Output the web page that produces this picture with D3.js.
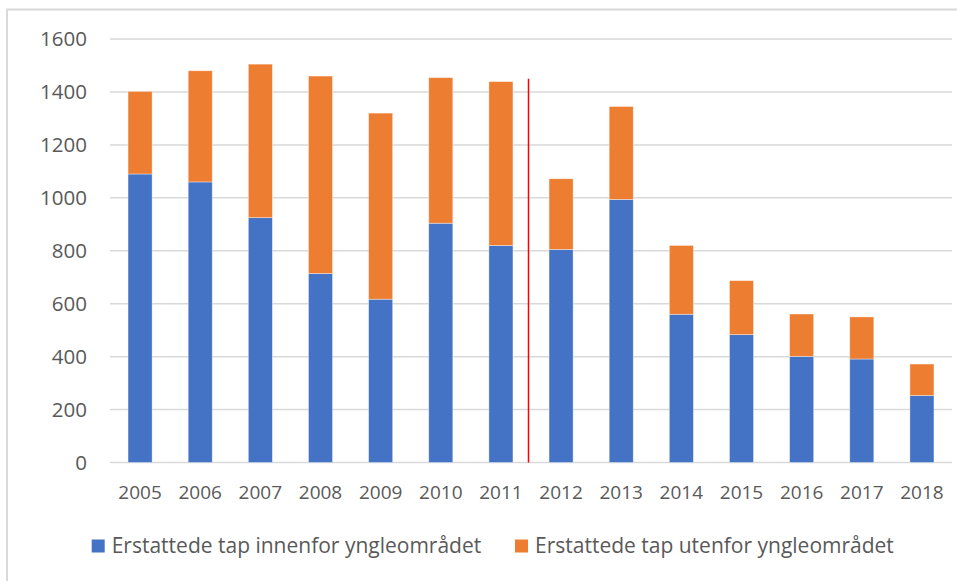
<!DOCTYPE html>
<html>
<head>
<meta charset="utf-8">
<script src="https://cdn.jsdelivr.net/npm/d3@7"></script>
<style>
  body { margin: 0; background: #fff; }
  svg text { font-family: "Open Sans", "Noto Sans", sans-serif; fill: #595959; }
</style>
</head>
<body>
<svg id="chart" width="957" height="581"></svg>
<script>
// data
var years = ["2005", "2006", "2007", "2008", "2009", "2010", "2011",
             "2012", "2013", "2014", "2015", "2016", "2017", "2018"];
var innenfor = [1090, 1060, 925, 714, 617, 904, 820, 805, 994, 560, 483, 401, 391, 253];
var utenfor  = [312, 420, 580, 746, 703, 550, 619, 267, 351, 260, 204, 160, 159, 119];
var yTicks = [0, 200, 400, 600, 800, 1000, 1200, 1400, 1600];
var seriesNames = ["Erstattede tap innenfor yngleområdet", "Erstattede tap utenfor yngleområdet"];
var colors = ["#4472c4", "#ed7d31"];
var markerYear = "2012", markerTop = 1450;

var svg = d3.select("#chart");

// chart frame (right and bottom edges run off the picture)
svg.append("path")
    .attr("d", "M7,581V9.5H957")
    .attr("fill", "none")
    .attr("stroke", "#d9d9d9")
    .attr("stroke-width", 2);

var x = d3.scaleBand()
    .domain(years)
    .range([110, 952])
    .paddingInner(0.6)
    .paddingOuter(0.3);

var y = d3.scaleLinear()
    .domain([0, 1600])
    .range([462.5, 39]);

// gridlines
svg.append("g")
    .selectAll("line")
    .data(yTicks)
    .enter().append("line")
    .attr("x1", 110)
    .attr("x2", 952)
    .attr("y1", function (d) { return y(d); })
    .attr("y2", function (d) { return y(d); })
    .attr("stroke", "#d9d9d9")
    .attr("stroke-width", 1.5);

// y labels
svg.append("g")
    .selectAll("text")
    .data(yTicks)
    .enter().append("text")
    .attr("x", 87)
    .attr("y", function (d) { return y(d); })
    .attr("dy", "0.35em")
    .attr("text-anchor", "end")
    .style("font-size", "20.5px")
    .text(function (d) { return d; });

// stacked bars
var rows = years.map(function (yr, i) {
    return { year: yr, innenfor: innenfor[i], utenfor: utenfor[i] };
});
var stack = d3.stack().keys(["innenfor", "utenfor"])(rows);

svg.append("g")
    .selectAll("g")
    .data(stack)
    .enter().append("g")
    .attr("fill", function (d, i) { return colors[i]; })
    .selectAll("rect")
    .data(function (d) { return d; })
    .enter().append("rect")
    .attr("x", function (d) { return x(d.data.year); })
    .attr("width", x.bandwidth())
    .attr("y", function (d) { return y(d[1]); })
    .attr("height", function (d) { return y(d[0]) - y(d[1]); })
    .attr("stroke", "#fff")
    .attr("stroke-opacity", 0.5)
    .attr("stroke-width", 0.75);

// red divider between 2011 and 2012
var mx = x(markerYear) - x.step() * x.paddingInner() / 2 - 2.5;
svg.append("line")
    .attr("x1", mx).attr("x2", mx)
    .attr("y1", y(markerTop)).attr("y2", y(0))
    .attr("stroke", "#ff0000")
    .attr("stroke-width", 1.5);

// x labels
svg.append("g")
    .selectAll("text")
    .data(years)
    .enter().append("text")
    .attr("x", function (d) { return x(d) + x.bandwidth() / 2; })
    .attr("y", 492.5)
    .attr("dy", "0.35em")
    .attr("text-anchor", "middle")
    .style("font-size", "19px")
    .text(function (d) { return d; });

// legend
var legendX = [91.7, 515];
var legend = svg.append("g")
    .selectAll("g")
    .data(seriesNames)
    .enter().append("g")
    .attr("transform", function (d, i) { return "translate(" + legendX[i] + ",539.5)"; });

legend.append("rect")
    .attr("width", 13)
    .attr("height", 13)
    .attr("fill", function (d, i) { return colors[i]; });

legend.append("text")
    .attr("x", 20)
    .attr("y", 6.5)
    .attr("dy", "0.35em")
    .style("font-size", "21px")
    .text(function (d) { return d; });
</script>
</body>
</html>
